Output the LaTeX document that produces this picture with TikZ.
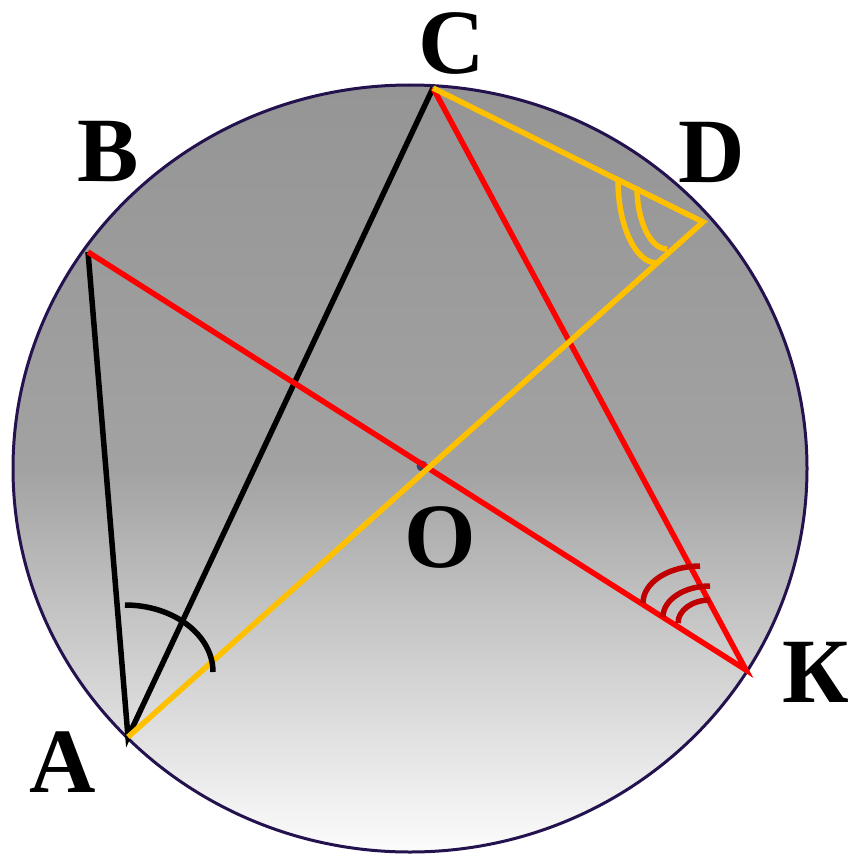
\documentclass[tikz,border=0pt]{standalone}
\usepackage{fontspec}
\setmainfont{Liberation Serif}
\definecolor{rimcol}{HTML}{24124F}
\definecolor{goldcol}{HTML}{FFC000}
\definecolor{arcred}{HTML}{C00000}
\definecolor{dotcol}{HTML}{3B3F6B}
\definecolor{shtop}{HTML}{959595}
\definecolor{shmid}{HTML}{A2A2A2}
\definecolor{shlow}{HTML}{FCFCFC}
\pgfdeclareverticalshading{discshade}{100bp}{color(0bp)=(shlow); color(25bp)=(shlow); color(50bp)=(shmid); color(75bp)=(shtop); color(100bp)=(shtop)}

\begin{document}
\begin{tikzpicture}[x=1pt, y=-1pt, line width=5.5pt,
    lbl/.style={font=\fontsize{92}{94}\selectfont\bfseries, inner sep=0pt},
    blackchord/.style={black, line join=miter},
    redchord/.style={red, line join=miter},
    goldchord/.style={goldcol, line join=miter},
    anglemark/.style={line width=5.5pt}]
  \useasboundingbox (0,0) rectangle (853,856);

  % disc
  \draw[rimcol, line width=3pt, shading=discshade] (410,468.5) ellipse [x radius=397, y radius=383.5];

  % points on the circle
  \coordinate (A) at (128,737);
  \coordinate (B) at (88,252);
  \coordinate (C) at (433,88);
  \coordinate (D) at (703,222);
  \coordinate (K) at (746,670);
  \coordinate (O) at (422,466);

  % labels
  \node[lbl] (labA) at (63,762) {A};
  \node[lbl] (labB) at (108,152) {B};
  \node[lbl] (labC) at (452,43) {C};
  \node[lbl] (labD) at (712,152) {D};
  \node[lbl] (labO) at (440,537) {O};
  \node[lbl] (labK) at (816,672) {К};

  % centre
  \fill[dotcol] (O) circle (5.5);

  % chords
  \draw[blackchord] (B) -- (A) -- (C);
  \draw[redchord] (B) -- (K) -- (C);
  \draw[goldchord] (C) -- (D) -- (A);

  % angle marks
  \draw[anglemark, black] (125,605) arc [start angle=-90, end angle=0, x radius=88, y radius=67];
  \draw[anglemark, goldcol] (618,180) arc [start angle=180, end angle=90, x radius=39, y radius=83];
  \draw[anglemark, goldcol] (637,187) arc [start angle=180, end angle=90, x radius=30, y radius=62];
  \draw[anglemark, arcred] (643,603) arc [start angle=180, end angle=270, x radius=57, y radius=37];
  \draw[anglemark, arcred] (663,617) arc [start angle=180, end angle=270, x radius=47, y radius=31];
  \draw[anglemark, arcred] (678,623) arc [start angle=180, end angle=270, x radius=32, y radius=23];
\end{tikzpicture}
\end{document}
